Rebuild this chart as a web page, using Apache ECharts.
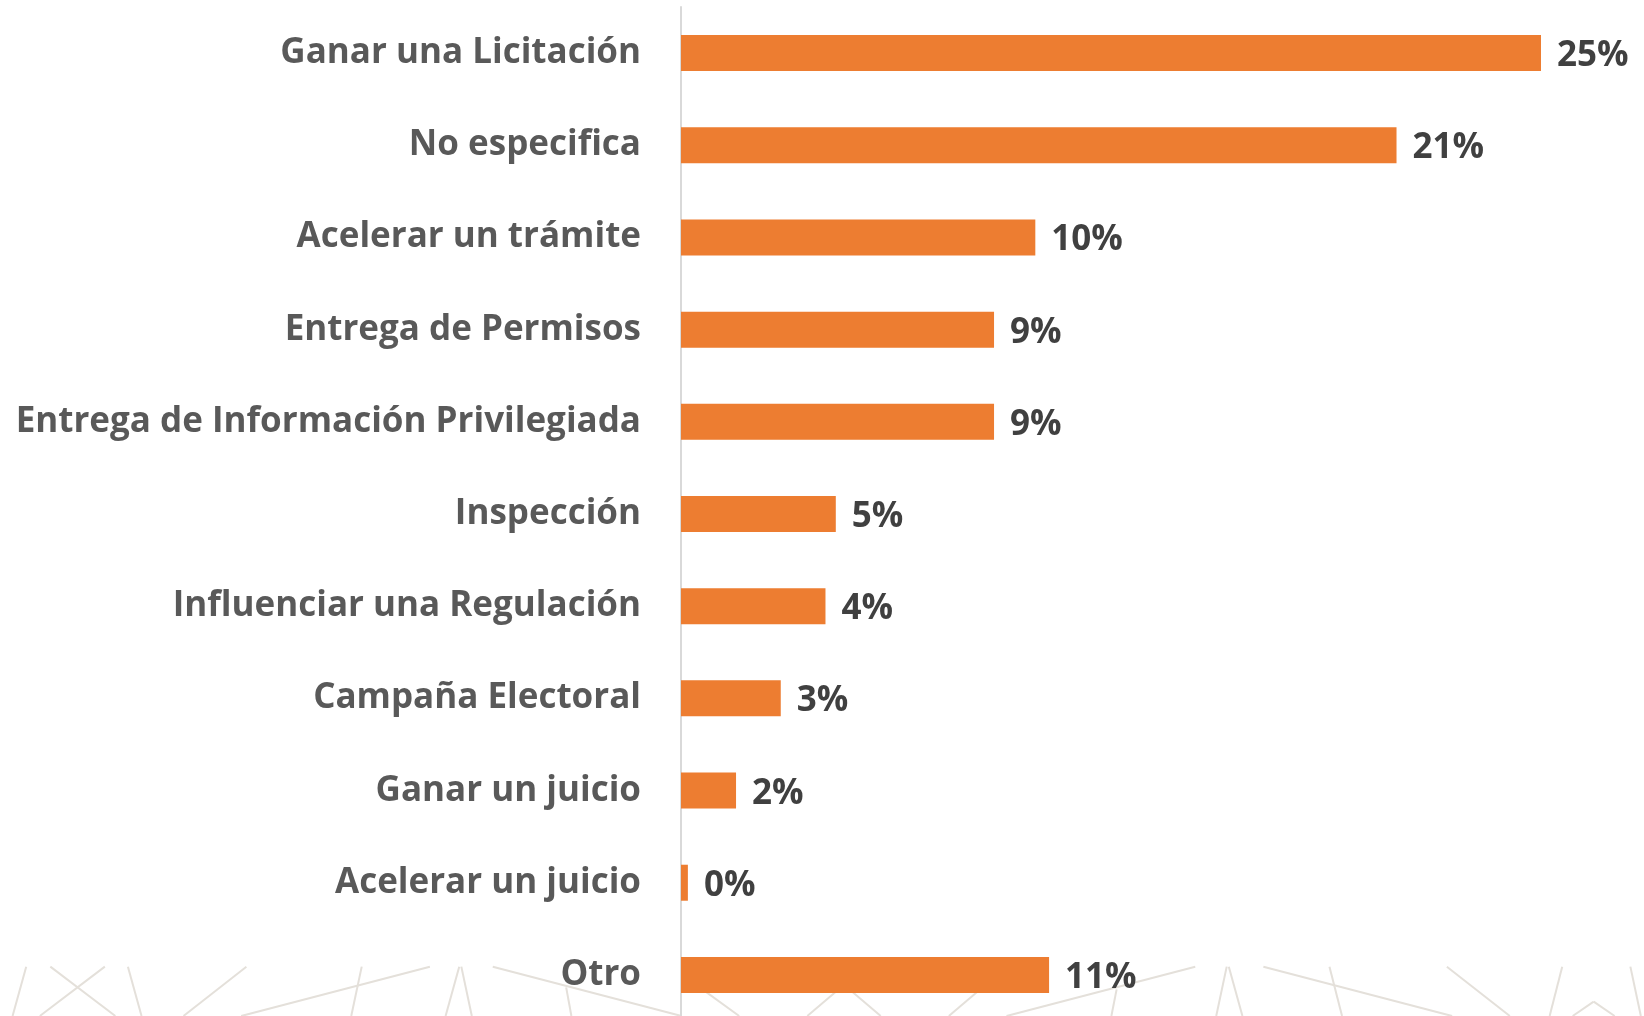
<!DOCTYPE html>
<html><head><meta charset="utf-8">
<script src="https://cdn.jsdelivr.net/npm/echarts@6/dist/echarts.min.js"></script>
<style>html,body{margin:0;padding:0;background:#fff;overflow:hidden}#c{width:1644px;height:1040px}</style>
</head><body><div id="c"></div>
<script>
const categories = ["Ganar una Licitación","No especifica","Acelerar un trámite","Entrega de Permisos","Entrega de Información Privilegiada","Inspección","Influenciar una Regulación","Campaña Electoral","Ganar un juicio","Acelerar un juicio","Otro"];
const values = [25, 20.8, 10.3, 9.1, 9.1, 4.5, 4.2, 2.9, 1.6, 0.2, 10.7];

// decorative background strokes (shrunk-image coords, converted below)
const deco = [[25,200,12,348],[48,200,110,348],[100,200,38,348],[122,200,135,348],[235,200,175,348],[345,200,335,348],[410,200,230,348],[438,200,425,348],[440,200,450,348],[470,200,650,348],[540,262,545,348],[670,268,705,348],[800,268,770,348],[810,268,840,348],[935,268,905,348],[1065,268,1060,348],[1140,200,960,348],[1170,200,1160,348],[1172,200,1185,348],[1205,200,1385,348],[1268,200,1280,348],[1380,200,1440,348],[1490,200,1478,348],[1520,305,1500,348],[1520,305,1540,348],[1555,200,1565,348]];
const sx = 1644/1568;
const graphics = deco.map(d => ({
  type:'line', z:-10, silent:true,
  shape:{x1:d[0]*sx, y1:900+d[1]/3, x2:d[2]*sx, y2:900+d[3]/3},
  style:{stroke:'#e4e0da', lineWidth:2}
}));

const chart = echarts.init(document.getElementById('c'));
chart.setOption({
  animation:false,
  graphic: graphics,
  grid:{left:681, right:103, top:7, height:1014, containLabel:false},
  xAxis:{type:'value', min:0, max:25, show:false},
  yAxis:{type:'category', data:categories, inverse:true,
    axisLine:{show:true, lineStyle:{color:'#d9d9d9', width:2}},
    axisTick:{show:false},
    axisLabel:{margin:40, color:'#595959', fontFamily:'Open Sans', fontWeight:'bold', fontSize:35, padding:[10,0,0,0]}
  },
  series:[{type:'bar', data:values, barWidth:36, z:2,
    itemStyle:{color:'#ed7d31'},
    label:{show:true, position:'right', distance:16, offset:[0,3], color:'#404040', fontFamily:'Open Sans', fontWeight:'bold', fontSize:35,
      formatter: p => Math.round(p.value) + '%'}
  }]
});
</script></body></html>
